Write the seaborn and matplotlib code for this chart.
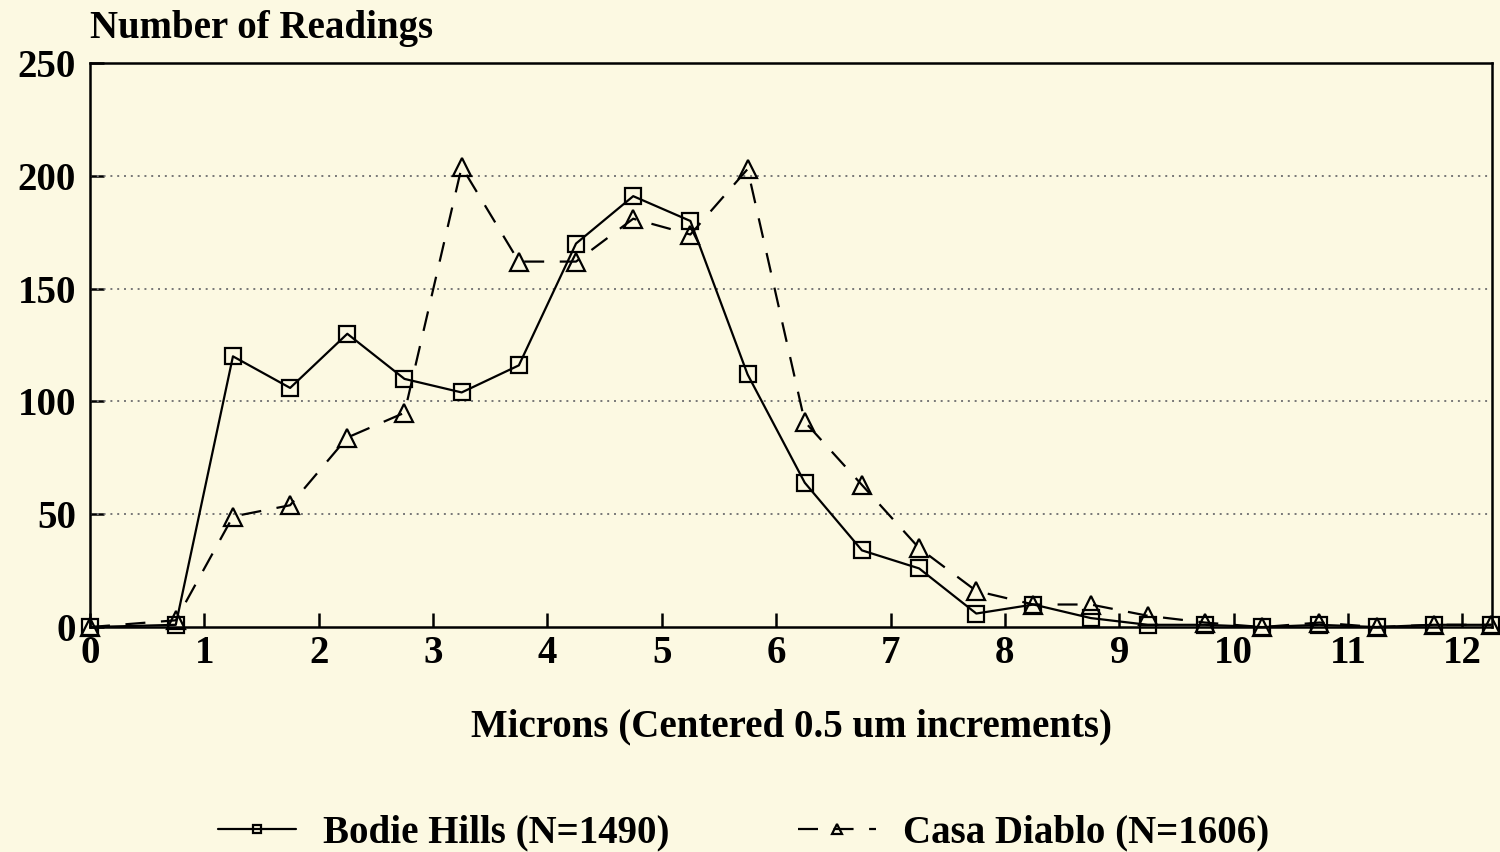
import matplotlib
matplotlib.use("Agg")
import matplotlib.pyplot as plt
import seaborn as sns
import pandas as pd

# bin centres (microns)
microns = [0, 0.75, 1.25, 1.75, 2.25, 2.75, 3.25, 3.75, 4.25, 4.75, 5.25, 5.75,
           6.25, 6.75, 7.25, 7.75, 8.25, 8.75, 9.25, 9.75, 10.25, 10.75, 11.25,
           11.75, 12.25]
bodie_hills = [0, 1, 120, 106, 130, 110, 104, 116, 170, 191, 180, 112,
               64, 34, 26, 6, 10, 4, 1, 1, 0, 1, 0, 1, 1]
casa_diablo = [0, 3, 49, 54, 84, 95, 204, 162, 162, 181, 174, 203,
               91, 63, 35, 16, 10, 10, 5, 2, 0, 2, 0, 1, 1]
y_ticks = [0, 50, 100, 150, 200, 250]
x_ticks = list(range(0, 13))

bg = "#fcf9e2"
sns.set_theme(style="ticks")
plt.rcParams['font.family'] = ['Liberation Serif', 'DejaVu Serif']
plt.rcParams['font.weight'] = 'bold'
plt.rcParams['text.color'] = 'black'
plt.rcParams['axes.labelcolor'] = 'black'

df = pd.DataFrame({"microns": microns, "Bodie Hills": bodie_hills,
                   "Casa Diablo": casa_diablo})

fig = plt.figure(figsize=(15, 8.52), dpi=100, facecolor=bg)
ax = fig.add_axes([0.06, 0.264, 0.9347, 0.662])
ax.set_facecolor(bg)

sns.lineplot(data=df, x="microns", y="Bodie Hills", ax=ax, color="black",
             lw=1.6, marker="s", ms=11.5, mfc="none", mec="black", mew=1.6,
             label="Bodie Hills (N=1490)", clip_on=False, zorder=3)
sns.lineplot(data=df, x="microns", y="Casa Diablo", ax=ax, color="black",
             lw=1.6, marker="^", ms=13.5, mfc="none", mec="black", mew=1.6,
             linestyle=(0, (9, 7)), label="Casa Diablo (N=1606)",
             clip_on=False, zorder=3)

ax.set_xlim(0, 12.26)
ax.set_ylim(0, 250)
ax.set_xticks(x_ticks)
ax.set_yticks(y_ticks)
for y in y_ticks[1:-1]:
    ax.axhline(y, color="#777777", lw=1.4, ls=(0, (1, 2.5)), zorder=1)

for s in ax.spines.values():
    s.set_linewidth(1.8)
    s.set_color("black")
ax.tick_params(direction="in", length=10, width=1.8, labelsize=28,
               colors="black", labelcolor="black", pad=6)
ax.tick_params(axis="y", pad=10)
ax.set_xlabel("Microns (Centered 0.5 um increments)", fontsize=28,
              fontweight="bold", labelpad=26, color="black")
ax.set_ylabel("")
fig.text(0.06, 0.966, "Number of Readings", fontsize=28, fontweight="bold",
         ha="left", va="center", color="black")

ax.get_legend().remove()
handles, labels = ax.get_legend_handles_labels()
leg = fig.legend(handles, labels, loc="center", bbox_to_anchor=(0.496, 0.022),
                 ncol=2, frameon=False, fontsize=28, handlelength=2.0,
                 columnspacing=3.3, markerscale=0.55, handletextpad=0.7)
for t in leg.get_texts():
    t.set_color("black")

fig.savefig("out.png", dpi=100, facecolor=bg)
